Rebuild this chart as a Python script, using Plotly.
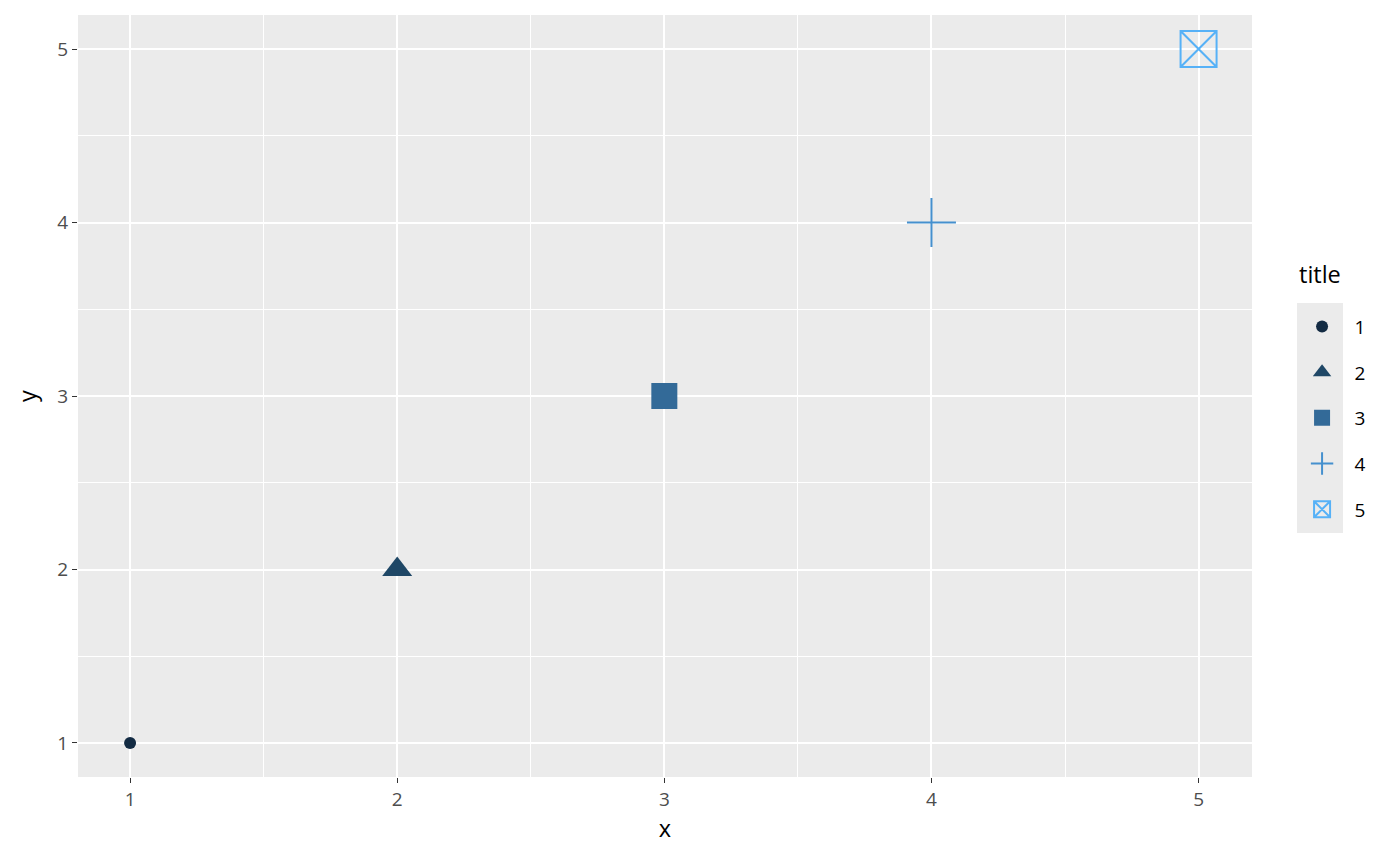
import plotly.graph_objects as go

x_vals = [1, 2, 3, 4, 5]
y_vals = [1, 2, 3, 4, 5]
labels = ["1", "2", "3", "4", "5"]
legend_title = "title"
colors = ["#132B43", "#1F4766", "#336A98", "#4590CE", "#56B1F7"]
symbols = ["circle", "triangle-up", "square", "cross-thin-open", "square-x-open"]
sizes = [12, 26, 26, 35, 36]

fig = go.Figure()
for i in range(len(x_vals)):
    open_sym = symbols[i].endswith("-open")
    fig.add_trace(go.Scatter(
        x=[x_vals[i]], y=[y_vals[i]], mode="markers", name=labels[i],
        legendgroup=labels[i],
        marker=dict(symbol=symbols[i], size=sizes[i], color=colors[i],
                    line=dict(color=colors[i], width=2 if open_sym else 0)),
    ))

# page body has an 8px margin, so the figure starts at (8, 8)
W, H = 1392, 858
L, T, R, B = 70, 7, 148, 89
pw = W - L - R
ph = H - T - B
fig.update_layout(
    width=W, height=H,
    paper_bgcolor="white", plot_bgcolor="#EBEBEB",
    margin=dict(l=L, r=R, t=T, b=B, autoexpand=False),
    font=dict(family="Open Sans", size=19, color="#4D4D4D"),
    legend=dict(
        font=dict(size=19, color="black"),
        x=1.032, xanchor="left", y=0.471, yanchor="middle",
        bgcolor="rgba(0,0,0,0)", itemsizing="trace", itemwidth=55,
        tracegroupgap=18, traceorder="grouped",
    ),
    showlegend=True,
)
axis_common = dict(
    showgrid=True, gridcolor="white", gridwidth=1.6,
    minor=dict(showgrid=True, gridcolor="white", gridwidth=0.8, dtick=0.5, tick0=0.5),
    zeroline=False, ticks="outside", ticklen=5, tickcolor="#333333", tickwidth=1.3,
    tickfont=dict(size=19, color="#4D4D4D"), dtick=1, tick0=0,
    showline=False, automargin=False,
)
fig.update_xaxes(range=[0.805, 5.2], title=dict(text="x", font=dict(size=23.5, color="black"), standoff=9), **axis_common)
fig.update_yaxes(range=[0.804, 5.196], title=dict(text="y", font=dict(size=23.5, color="black"), standoff=14), **axis_common)

fig.add_annotation(text=legend_title, xref="paper", yref="paper",
                   x=(1297 - 78) / pw, y=(777 - 274) / ph, xanchor="left", yanchor="middle",
                   showarrow=False, font=dict(size=23.5, color="black"))

fig.add_shape(type="rect", xref="paper", yref="paper",
              x0=(1297 - 78) / pw, x1=(1343 - 78) / pw,
              y0=(777 - 533) / ph, y1=(777 - 303) / ph,
              fillcolor="#EBEBEB", line=dict(width=0), layer="below")

fig.write_html("out.html")
